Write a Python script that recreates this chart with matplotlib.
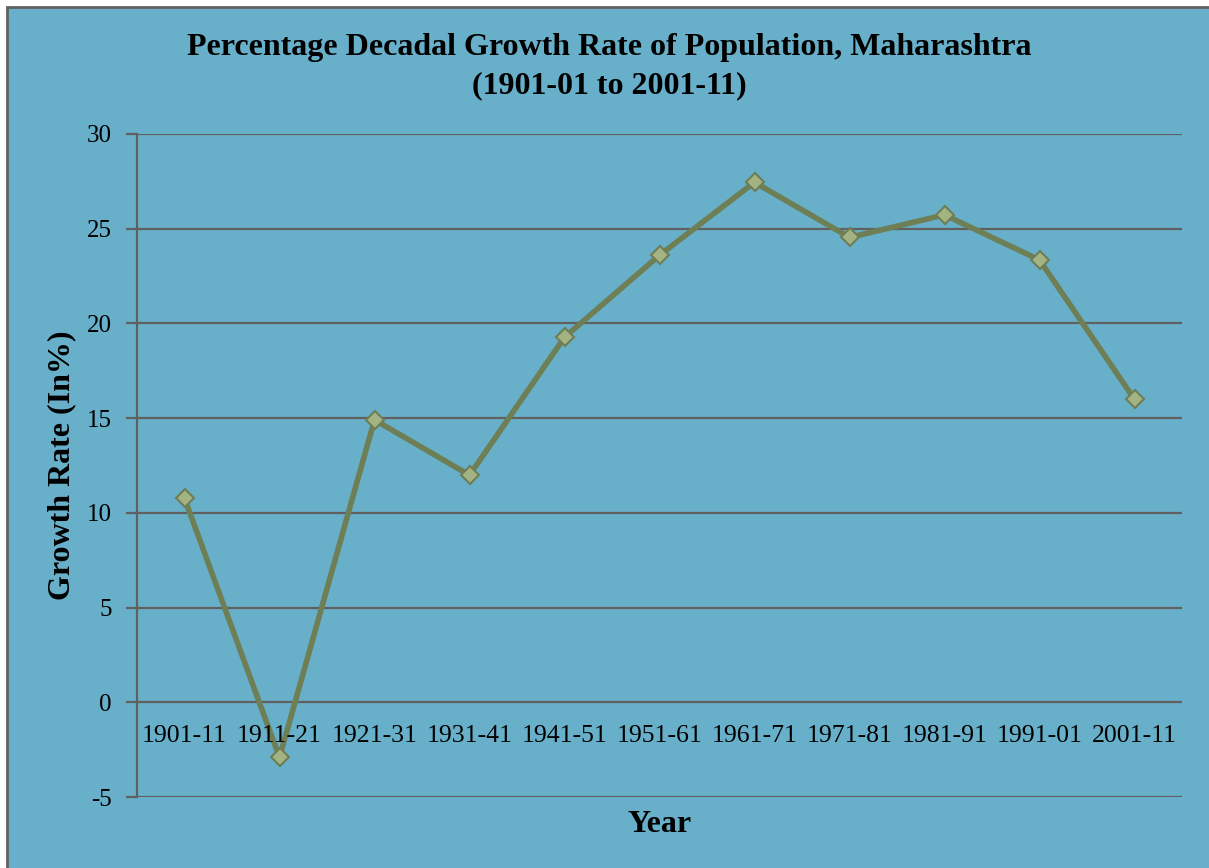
import matplotlib.pyplot as plt
from matplotlib.patches import Rectangle

# Data
periods = ['1901-11', '1911-21', '1921-31', '1931-41', '1941-51', '1951-61',
           '1961-71', '1971-81', '1981-91', '1991-01', '2001-11']
growth = [10.77, -2.91, 14.91, 11.99, 19.27, 23.60, 27.45, 24.54, 25.73, 23.35, 15.99]
y_ticks = [-5, 0, 5, 10, 15, 20, 25, 30]

bg = '#68AFC9'
grid_c = '#606060'
line_c = '#6E7E55'
marker_c = '#A3B382'

plt.rcParams['font.family'] = ['Liberation Serif', 'DejaVu Serif']

W, H = 1209, 868
fig = plt.figure(figsize=(W / 100, H / 100), dpi=100, facecolor='white')

# blue chart area with gray border (right/bottom edges lie outside the image)
fig.patches.append(Rectangle((7 / W, -0.05), 1.1, 1 - 7 / H + 0.05,
                             transform=fig.transFigure, facecolor=bg,
                             edgecolor=grid_c, linewidth=2, zorder=-5))

ax = fig.add_axes([137 / W, 1 - 797 / H, (1182 - 137) / W, (797 - 134) / H])
ax.set_facecolor(bg)

x = list(range(len(periods)))
ax.plot(x, growth, color=line_c, linewidth=4, marker='D', markersize=9.5,
        markerfacecolor=marker_c, markeredgecolor=line_c, markeredgewidth=1.5,
        zorder=3, clip_on=False)

ax.set_xlim(-0.5, len(periods) - 0.5)
ax.set_ylim(-5, 30)
ax.set_yticks(y_ticks)
ax.set_yticklabels([str(v) for v in y_ticks], fontsize=18)
ax.yaxis.grid(True, color=grid_c, linewidth=1.6)
ax.set_axisbelow(True)
ax.tick_params(axis='y', length=8, width=1.6, color=grid_c, pad=10)

for s in ['top', 'right', 'bottom']:
    ax.spines[s].set_visible(False)
ax.spines['left'].set_color(grid_c)
ax.spines['left'].set_linewidth(1.6)

# category labels sit just below the zero line
ax.set_xticks([])
for xi, lab in zip(x, periods):
    ax.text(xi, -1.8, lab, ha='center', va='center', fontsize=18.5)

ax.set_ylabel('Growth Rate (In%)', fontsize=23, fontweight='bold', va='center')
ax.yaxis.set_label_coords((62 - 137) / 1045, 0.5)
ax.set_xlabel('Year', fontsize=23, fontweight='bold', va='center')
ax.xaxis.set_label_coords((660 - 137) / 1045, (797 - 824) / 663)

fig.text(609 / W, 1 - 47 / H, 'Percentage Decadal Growth Rate of Population, Maharashtra',
         ha='center', va='center', fontsize=23, fontweight='bold')
fig.text(609 / W, 1 - 86 / H, '(1901-01 to 2001-11)',
         ha='center', va='center', fontsize=23, fontweight='bold')

fig.savefig('out.png', dpi=100, facecolor='white')
